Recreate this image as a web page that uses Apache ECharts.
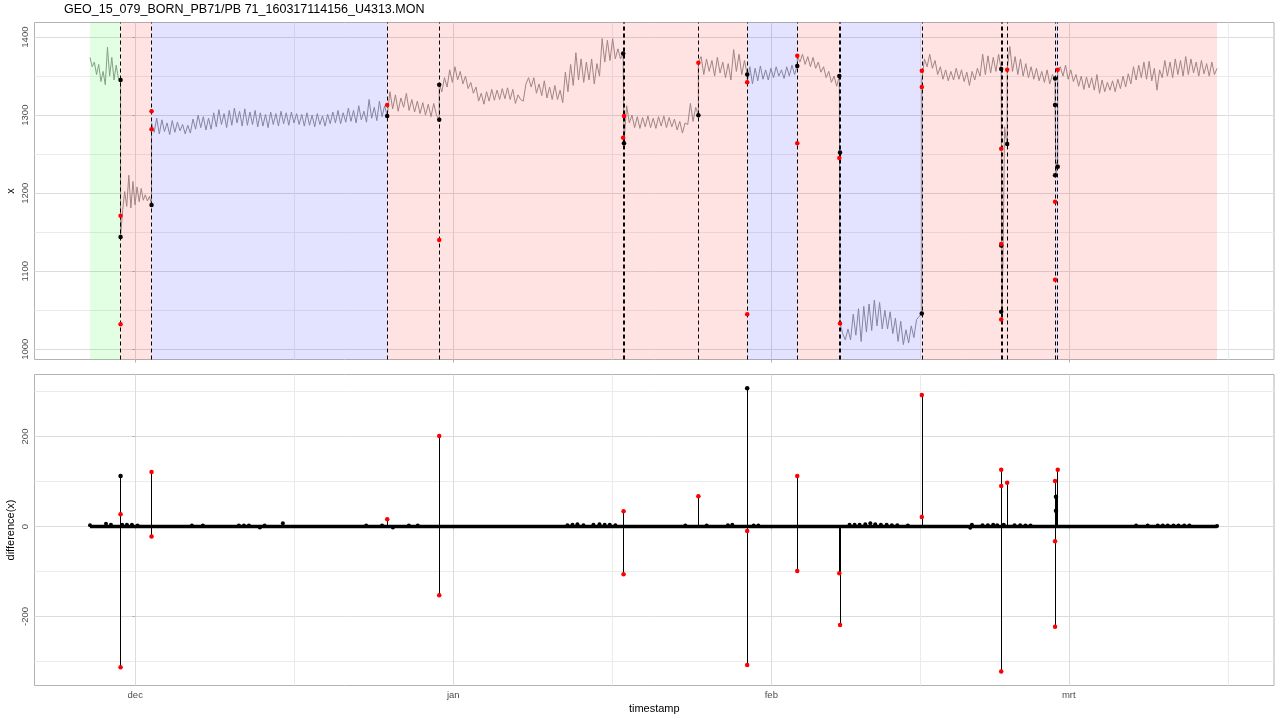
<!DOCTYPE html>
<html><head><meta charset="utf-8">
<script src="https://cdn.jsdelivr.net/npm/echarts@6/dist/echarts.min.js"></script>
<style>html,body{margin:0;padding:0;background:#fff}#c{width:1280px;height:720px}</style>
</head><body><div id="c"></div>
<script>
const FONT = 'Liberation Sans, Arial, sans-serif';
const titleText = 'GEO_15_079_BORN_PB71/PB 71_160317114156_U4313.MON';

// time unit: days since 2015-12-01 00:00
const monthTickDays = [0, 31, 62, 91];
const monthTickLabels = ['dec', 'jan', 'feb', 'mrt'];
const monthMinorDays = [15.5, 46.5, 76.5, 106.5];
const xMinDay = -9.82, xMaxDay = 111.0;

const topYMin = 986.9, topYMax = 1418.7;
const topYTicks = [1000, 1100, 1200, 1300, 1400];
const topYMinor = [1050, 1150, 1250, 1350];
const diffYMin = -353.3, diffYMax = 337.8;
const diffYTicks = [-200, 0, 200];
const diffYMinor = [-300, -100, 100, 300];

const seriesStartDay = -4.41, seriesEndDay = 105.45;
const changeDays = [-1.432, 1.588, 24.56, 29.63, 47.56, 47.64, 54.89, 59.65, 64.53, 68.63, 68.70, 76.67, 84.41, 84.48, 84.99, 89.66, 89.92];

// background states (-1 = series start, 99 = series end)
const stateFrom = [-1, 0, 1, 2, 7, 8, 9, 11, 15, 16];
const stateTo   = [0, 1, 2, 7, 8, 9, 11, 15, 16, 99];
const stateKind = ['green', 'red', 'blue', 'red', 'blue', 'red', 'blue', 'red', 'blue', 'red'];

// series segments of x between change points
const segStart = [-1, 0, 1, 2, 3, 5, 6, 7, 8, 10, 11, 13, 14, 15, 16];
const segEnd   = [0, 1, 2, 3, 4, 6, 7, 8, 9, 11, 12, 14, 15, 16, 99];
const seg1 = [1374, 1362, 1368, 1352, 1365, 1343, 1356, 1339, 1387, 1350, 1374, 1345, 1364, 1347, 1345];
const seg2 = [1144, 1178, 1202, 1183, 1223, 1181, 1215, 1185, 1208, 1189, 1206, 1191, 1198, 1190, 1196, 1185];
const seg3 = [1290, 1278, 1296, 1276, 1294, 1279, 1290, 1275, 1293, 1278, 1291, 1280,
  1288, 1276, 1287, 1277, 1295, 1282, 1300, 1284, 1298, 1281, 1296, 1282,
  1303, 1285, 1307, 1288, 1302, 1284, 1306, 1287, 1309, 1290, 1305, 1286,
  1308, 1287, 1304, 1288, 1306, 1285, 1303, 1286, 1301, 1284, 1304, 1288,
  1302, 1286, 1305, 1289, 1303, 1287, 1304, 1290, 1302, 1288, 1301, 1286,
  1303, 1287, 1300, 1285, 1302, 1288, 1299, 1286, 1301, 1289, 1304, 1290,
  1306, 1289, 1303, 1291, 1309, 1292, 1306, 1290, 1312, 1294, 1305, 1291,
  1320, 1296, 1310, 1293, 1318, 1298, 1312, 1299];
const seg4 = [1300, 1330, 1308, 1326, 1305, 1322, 1310, 1328, 1306, 1320, 1304, 1318, 1302, 1316, 1300, 1314, 1298, 1315, 1300, 1294];
const seg5 = [1340, 1330, 1348, 1336, 1358, 1342, 1362, 1345, 1356, 1340, 1350, 1334,
  1342, 1328, 1336, 1318, 1328, 1314, 1330, 1318, 1333, 1319, 1332, 1320,
  1334, 1321, 1335, 1320, 1333, 1315, 1326, 1320, 1318, 1340, 1348, 1336,
  1348, 1328, 1340, 1325, 1344, 1322, 1336, 1320, 1338, 1320, 1332, 1316,
  1355, 1330, 1365, 1338, 1380, 1345, 1372, 1342, 1368, 1345, 1372, 1340,
  1366, 1350, 1398, 1368, 1396, 1370, 1398, 1372, 1385, 1372, 1379];
const seg6 = [1265, 1312, 1290, 1300, 1284, 1298, 1283, 1297, 1285, 1299, 1284, 1296, 1283, 1298, 1286, 1299, 1284, 1297, 1285, 1295, 1281, 1292, 1277, 1290, 1288, 1315, 1292, 1310, 1300];
const seg7 = [1367, 1375, 1352, 1372, 1356, 1370, 1350, 1374, 1354, 1368, 1348, 1366, 1345, 1384, 1356, 1378, 1352, 1370, 1352];
const seg8 = [1342, 1362, 1340, 1360, 1344, 1363, 1346, 1358, 1345, 1360, 1348, 1362, 1350, 1358, 1347, 1362, 1350, 1364, 1352, 1364];
const seg9 = [1376, 1368, 1378, 1365, 1375, 1362, 1374, 1360, 1368, 1355, 1362, 1348, 1356, 1342, 1350, 1337, 1350];
const seg10 = [1033, 1020, 1012, 1026, 1012, 1045, 1018, 1052, 1010, 1055, 1022, 1058, 1024, 1063, 1030, 1060,
  1026, 1050, 1026, 1048, 1020, 1040, 1010, 1036, 1006, 1025, 1008, 1030, 1015, 1038, 1042, 1047];
const seg11 = [1345, 1372, 1362, 1378, 1360, 1370, 1352, 1362, 1346, 1358, 1344, 1356, 1345, 1360, 1346, 1358,
  1343, 1355, 1338, 1356, 1345, 1360, 1350, 1378, 1352, 1376, 1354, 1374, 1356, 1378, 1359];
const seg12 = [1048, 1133, 1285, 1272, 1263];
const seg13 = [1358, 1388, 1356, 1375, 1352, 1372, 1350, 1366, 1348, 1362, 1346, 1360, 1344, 1356, 1342, 1358, 1340, 1352, 1346];
const seg14 = [1313, 1222, 1240, 1234];
const seg15 = [1358, 1362, 1350, 1364, 1346, 1358, 1343, 1352, 1337, 1350, 1333, 1349,
  1335, 1348, 1332, 1352, 1328, 1345, 1330, 1342, 1332, 1344, 1330, 1346,
  1334, 1350, 1336, 1353, 1340, 1362, 1345, 1364, 1348, 1368, 1346, 1369,
  1344, 1360, 1332, 1358, 1348, 1370, 1350, 1368, 1348, 1372, 1352, 1370,
  1350, 1375, 1352, 1372, 1354, 1368, 1350, 1370, 1353, 1366, 1350, 1368, 1352, 1360];

// points in the x panel at change points (index into changeDays)
const topBlackAt   = [0, 0, 1, 2, 3, 3, 4, 5, 6, 7, 8, 9, 10, 11, 12, 12, 12, 14, 15, 15, 15, 16];
const topBlackVals = [1345, 1144, 1185, 1299, 1339, 1294, 1379, 1264, 1300, 1352, 1363, 1350, 1252, 1046, 1359, 1133, 1048, 1263, 1347, 1313, 1223, 1234];
const topRedAt   = [0, 0, 1, 1, 2, 3, 4, 5, 6, 7, 7, 8, 8, 9, 10, 11, 11, 12, 12, 12, 14, 15, 15, 16];
const topRedVals = [1171, 1032, 1305, 1282, 1313, 1140, 1271, 1299, 1367, 1342, 1045, 1376, 1264, 1245, 1033, 1357, 1336, 1257, 1135, 1038, 1358, 1189, 1089, 1358];

// difference(x) panel
const diffSpikeDays = [-1.432, 1.588, 24.56, 29.63, 47.6, 54.89, 59.65, 64.53, 68.63, 68.70, 76.67, 84.41, 84.99, 89.66, 89.75, 89.92];
const diffSpikeVals = [[112, 27, -313], [121, -22], [16], [201, -153], [34, -106], [67], [307, -10, -308], [112, -99],
  [-104], [-219], [292, 21], [126, 90, -322], [97], [101, -33, -223], [66, 35], [126]];
const diffSpikeRed = [[0, 1, 1], [1, 1], [1], [1, 1], [1, 1], [1], [0, 1, 1], [1, 1],
  [1], [1], [1, 1], [1, 1, 1], [1], [1, 1, 1], [0, 0], [1]];
const diffBumpDays = [-4.41, -2.85, -2.37, -1.27, -0.81, -0.32, 0.23, 5.52, 6.59, 10.10, 10.59, 11.08, 12.15, 12.61, 14.39,
  22.51, 24.06, 25.11, 26.67, 27.54, 42.13, 42.62, 43.10, 43.69, 44.66, 45.25, 45.76, 46.25, 46.80,
  53.62, 55.70, 57.77, 58.20, 60.28, 60.74, 69.63, 70.12, 70.61, 71.16, 71.65, 72.13, 72.68, 73.24, 73.75, 74.28, 75.31,
  81.39, 81.55, 82.59, 83.11, 83.63, 84.02, 84.66, 85.71, 86.26, 86.78, 87.27,
  97.56, 98.69, 99.67, 100.16, 100.64, 101.20, 101.69, 102.25, 102.76, 105.45];
const diffBumpVals = [3, 6, 4, 4, 4, 4, 2, 2, 2, 2, 2, 2, -2, 2, 7,
  2, 2, -2, 2, 2, 3, 4, 5, 3, 4, 5, 4, 4, 3,
  2, 2, 3, 4, 2, 2, 4, 4, 4, 5, 7, 5, 4, 4, 3, 3, 2,
  -3, 4, 3, 3, 4, 3, 4, 3, 3, 2, 2,
  2, 2, 2, 2, 2, 2, 2, 2, 2, 1];

// ---- build ----
const stateColor = {green: 'rgba(0,255,0,0.11)', red: 'rgba(255,0,0,0.11)', blue: 'rgba(0,0,255,0.11)'};
const dayOf = i => i === -1 ? seriesStartDay : (i === 99 ? seriesEndDay : changeDays[i]);
const segValues = [seg1, seg2, seg3, seg4, seg5, seg6, seg7, seg8, seg9, seg10, seg11, seg12, seg13, seg14, seg15];
const lineData = [];
segValues.forEach((vals, k) => {
  const a = dayOf(segStart[k]), b = dayOf(segEnd[k]);
  vals.forEach((v, j) => lineData.push([a + (b - a) * j / (vals.length - 1), v]));
});
const areas = stateKind.map((k, i) => [{xAxis: dayOf(stateFrom[i]), itemStyle: {color: stateColor[k]}}, {xAxis: dayOf(stateTo[i])}]);
const vlines = changeDays.map(d => ({xAxis: d}));
const topBlack = topBlackAt.map((i, j) => [changeDays[i], topBlackVals[j]]);
const topRed = topRedAt.map((i, j) => [changeDays[i], topRedVals[j]]);
const spikeLines = [], diffRed = [], diffBlack = [];
diffSpikeDays.forEach((d, i) => {
  const vs = diffSpikeVals[i];
  const lo = Math.min(0, ...vs), hi = Math.max(0, ...vs);
  spikeLines.push([{coord: [d, lo]}, {coord: [d, hi]}]);
  vs.forEach((v, j) => (diffSpikeRed[i][j] ? diffRed : diffBlack).push([d, v]));
});
const diffBump = diffBumpDays.map((d, i) => [d, diffBumpVals[i]]);

const tickStyle = {show: true, length: 3, lineStyle: {color: '#b3b3b3', width: 1}};
const majorSplit = {show: true, lineStyle: {color: '#dcdcdc', width: 1}};
const minorSplit = {show: true, lineStyle: {color: '#ebebeb', width: 1}};
const labelStyle = {fontFamily: FONT, fontSize: 9.5, color: '#4d4d4d'};
const nameStyle = {fontFamily: FONT, fontSize: 11, color: '#000'};

function xAxes(gi, showLabels) {
  return [
    {gridIndex: gi, type: 'value', min: xMinDay, max: xMaxDay, position: 'bottom',
     axisLine: {show: false},
     axisTick: Object.assign({customValues: monthTickDays}, tickStyle),
     axisLabel: Object.assign({show: showLabels, customValues: monthTickDays, margin: 5,
       formatter: v => { const i = monthTickDays.indexOf(v); return i >= 0 ? monthTickLabels[i] : ''; }}, labelStyle),
     splitLine: majorSplit,
     name: showLabels ? 'timestamp' : '', nameLocation: 'middle', nameGap: 18, nameMoveOverlap: false, nameTextStyle: nameStyle},
    {gridIndex: gi, type: 'value', min: xMinDay, max: xMaxDay, position: 'bottom',
     axisLine: {show: false}, axisTick: {show: false, customValues: monthMinorDays},
     axisLabel: {show: false}, splitLine: minorSplit}
  ];
}
function yAxes(gi, mn, mx, ticks, minor, name) {
  return [
    {gridIndex: gi, type: 'value', min: mn, max: mx, position: 'left',
     axisLine: {show: false},
     axisTick: Object.assign({customValues: ticks}, tickStyle),
     axisLabel: Object.assign({customValues: ticks, rotate: 90, margin: 4, formatter: v => String(v)}, labelStyle),
     splitLine: majorSplit,
     name: name, nameLocation: 'middle', nameRotate: 90, nameGap: 18, nameMoveOverlap: false, nameTextStyle: nameStyle},
    {gridIndex: gi, type: 'value', min: mn, max: mx, position: 'left',
     axisLine: {show: false}, axisTick: {show: false, customValues: minor},
     axisLabel: {show: false}, splitLine: minorSplit}
  ];
}

const chart = echarts.init(document.getElementById('c'), null, {renderer: 'canvas', width: 1280, height: 720});
chart.setOption({
  animation: false,
  backgroundColor: '#fff',
  title: {text: titleText, left: 64, top: 3, padding: 0,
    textStyle: {fontFamily: FONT, fontSize: 12.5, fontWeight: 'normal', color: '#000'}},
  grid: [
    {left: 34.5, top: 22.5, width: 1239.5, height: 337, show: true, borderColor: '#b3b3b3', borderWidth: 1,
     backgroundColor: 'transparent', containLabel: false, outerBoundsMode: 'none'},
    {left: 34.5, top: 374.5, width: 1239.5, height: 311, show: true, borderColor: '#b3b3b3', borderWidth: 1,
     backgroundColor: 'transparent', containLabel: false, outerBoundsMode: 'none'}
  ],
  xAxis: [...xAxes(0, false), ...xAxes(1, true)],
  yAxis: [...yAxes(0, topYMin, topYMax, topYTicks, topYMinor, 'x'),
          ...yAxes(1, diffYMin, diffYMax, diffYTicks, diffYMinor, 'difference(x)')],
  series: [
    {type: 'line', xAxisIndex: 0, yAxisIndex: 0, data: lineData, showSymbol: false, symbol: 'none',
     lineStyle: {color: '#969696', width: 1}, z: 2, silent: true,
     markArea: {silent: true, z: 3, data: areas, label: {show: false}},
     markLine: {silent: true, z: 4, symbol: ['none', 'none'], label: {show: false},
       lineStyle: {color: '#000', width: 1, type: [4, 3]}, emphasis: {disabled: true}, data: vlines}},
    {type: 'scatter', xAxisIndex: 0, yAxisIndex: 0, data: topBlack, symbolSize: 4.5,
     itemStyle: {color: '#000', opacity: 1}, z: 6, silent: true},
    {type: 'scatter', xAxisIndex: 0, yAxisIndex: 0, data: topRed, symbolSize: 4.5,
     itemStyle: {color: '#ff0000', opacity: 1}, z: 7, silent: true},
    {type: 'line', xAxisIndex: 2, yAxisIndex: 2, data: [[seriesStartDay, 0], [seriesEndDay, 0]],
     showSymbol: false, symbol: 'none', lineStyle: {color: '#000', width: 3.5}, z: 2, silent: true,
     markLine: {silent: true, z: 3, symbol: ['none', 'none'], label: {show: false},
       lineStyle: {color: '#000', width: 1, type: 'solid'}, emphasis: {disabled: true}, data: spikeLines}},
    {type: 'scatter', xAxisIndex: 2, yAxisIndex: 2, data: diffBump, symbolSize: 4,
     itemStyle: {color: '#000', opacity: 1}, z: 5, silent: true},
    {type: 'scatter', xAxisIndex: 2, yAxisIndex: 2, data: diffBlack, symbolSize: 4.5,
     itemStyle: {color: '#000', opacity: 1}, z: 6, silent: true},
    {type: 'scatter', xAxisIndex: 2, yAxisIndex: 2, data: diffRed, symbolSize: 4.5,
     itemStyle: {color: '#ff0000', opacity: 1}, z: 7, silent: true}
  ]
});
</script>
</body></html>
